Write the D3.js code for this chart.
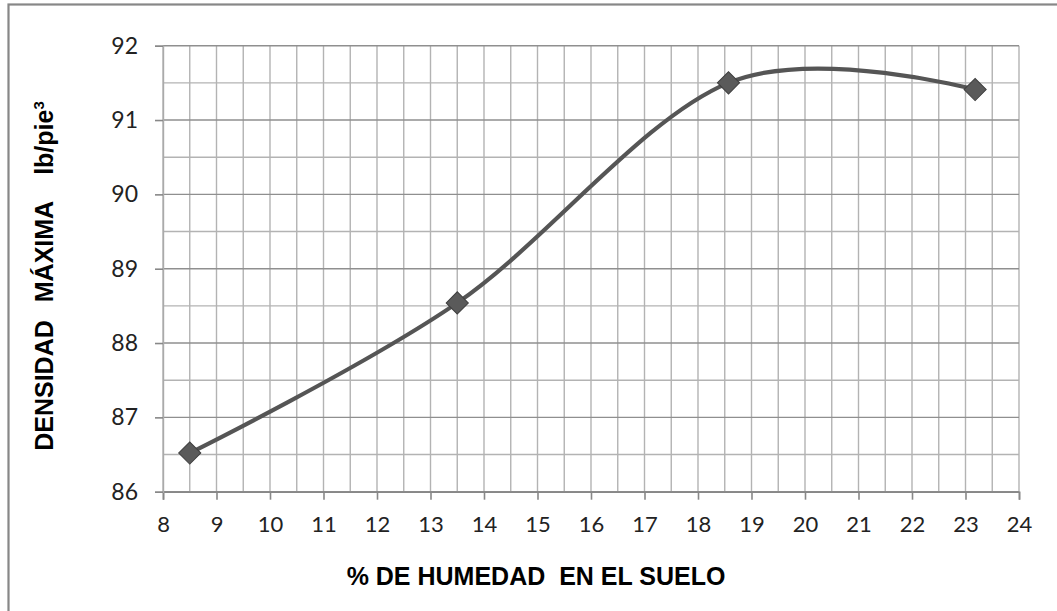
<!DOCTYPE html>
<html>
<head>
<meta charset="utf-8">
<script src="https://cdn.jsdelivr.net/npm/d3@7"></script>
<style>
  html, body { margin: 0; padding: 0; background: #fff; }
  svg { display: block; }
</style>
</head>
<body>
<svg id="chart" width="1057" height="611"></svg>
<script>
// ---- data ----
const moisture = [8.5, 13.5, 18.57, 23.18];      // % humedad
const density  = [86.52, 88.54, 91.5, 91.41];    // densidad máxima lb/pie³
const xTicks = [8, 9, 10, 11, 12, 13, 14, 15, 16, 17, 18, 19, 20, 21, 22, 23, 24];
const yTicks = [86, 87, 88, 89, 90, 91, 92];
const xTitle = "% DE HUMEDAD  EN EL SUELO";
const yTitleWords = ["DENSIDAD", "MÁXIMA", "lb/pie"];

const svg = d3.select("#chart");
const W = 1057, H = 611;

// frame
svg.append("rect")
  .attr("x", 8.5).attr("y", 4.5)
  .attr("width", W + 20).attr("height", H + 20)
  .attr("fill", "#fff").attr("stroke", "#878787").attr("stroke-width", 2.2);

const x = d3.scaleLinear().domain([8, 24]).range([163, 1019]);
const y = d3.scaleLinear().domain([86, 92]).range([491.7, 45.7]);

// gridlines (every 0.5)
const xGrid = d3.range(8, 24.01, 0.5);
const yGrid = d3.range(86, 92.01, 0.5);
const g = svg.append("g");
g.selectAll("line.vx").data(xGrid).join("line")
  .attr("x1", d => x(d)).attr("x2", d => x(d))
  .attr("y1", y(92)).attr("y2", y(86))
  .attr("stroke", "#b3b3b3").attr("stroke-width", 1.4);
g.selectAll("line.hy").data(yGrid).join("line")
  .attr("x1", x(8)).attr("x2", x(24))
  .attr("y1", d => y(d)).attr("y2", d => y(d))
  .attr("stroke", d => Number.isInteger(d) ? "#8f8f8f" : "#b3b3b3")
  .attr("stroke-width", 1.4);

// x axis
const xAxis = d3.axisBottom(x).tickValues(xTicks).tickSize(8).tickPadding(17).tickFormat(d3.format("d"));
const gx = svg.append("g").attr("transform", `translate(0,${y(86)})`).call(xAxis);
gx.select(".domain").attr("stroke", "#888").attr("stroke-width", 1.6);
gx.selectAll(".tick line").attr("stroke", "#888").attr("stroke-width", 1.6);
gx.selectAll(".tick text").attr("font-family", "Lato, 'Open Sans', sans-serif")
  .attr("font-size", 22).attr("fill", "#222");

// y axis
const yAxis = d3.axisLeft(y).tickValues(yTicks).tickSize(8).tickPadding(17).tickFormat(d3.format("d"));
const gy = svg.append("g").attr("transform", `translate(${x(8)},0)`).call(yAxis);
gy.select(".domain").attr("stroke", "#aaa").attr("stroke-width", 1.4);
gy.selectAll(".tick line").attr("stroke", "#888").attr("stroke-width", 1.6);
gy.selectAll(".tick text").attr("font-family", "Lato, 'Open Sans', sans-serif")
  .attr("font-size", 23).attr("fill", "#222");

// smoothed line
const pts = moisture.map((m, i) => [m, density[i]]);
const line = d3.line().x(d => x(d[0])).y(d => y(d[1])).curve(d3.curveCardinal.tension(0));
svg.append("path").datum(pts).attr("d", line)
  .attr("fill", "none").attr("stroke", "#555").attr("stroke-width", 4.2)
  .attr("stroke-linejoin", "round");

// diamond markers
const sym = d3.symbol().type(d3.symbolSquare).size(245);
svg.selectAll("path.mk").data(pts).join("path")
  .attr("d", sym)
  .attr("transform", d => `translate(${x(d[0])},${y(d[1])}) rotate(45)`)
  .attr("fill", "#5a5a5a").attr("stroke", "#3f3f3f").attr("stroke-width", 1);

// axis titles
svg.append("text")
  .attr("x", 536).attr("y", 585)
  .attr("text-anchor", "middle")
  .attr("font-family", "'Liberation Sans', Arial, sans-serif")
  .attr("font-weight", "bold").attr("font-size", 25).attr("fill", "#000")
  .style("white-space", "pre")
  .text(xTitle);

const yt = svg.append("text")
  .attr("transform", "translate(53,276) rotate(-90)")
  .attr("text-anchor", "middle")
  .attr("font-family", "'Liberation Sans', Arial, sans-serif")
  .attr("font-weight", "bold").attr("font-size", 25).attr("fill", "#000");
yt.append("tspan").text(yTitleWords[0]);
yt.append("tspan").attr("dx", 18).text(yTitleWords[1]);
yt.append("tspan").attr("dx", 26).text(yTitleWords[2]);
yt.append("tspan").attr("font-size", 15).attr("dy", -9).text("3");
</script>
</body>
</html>
